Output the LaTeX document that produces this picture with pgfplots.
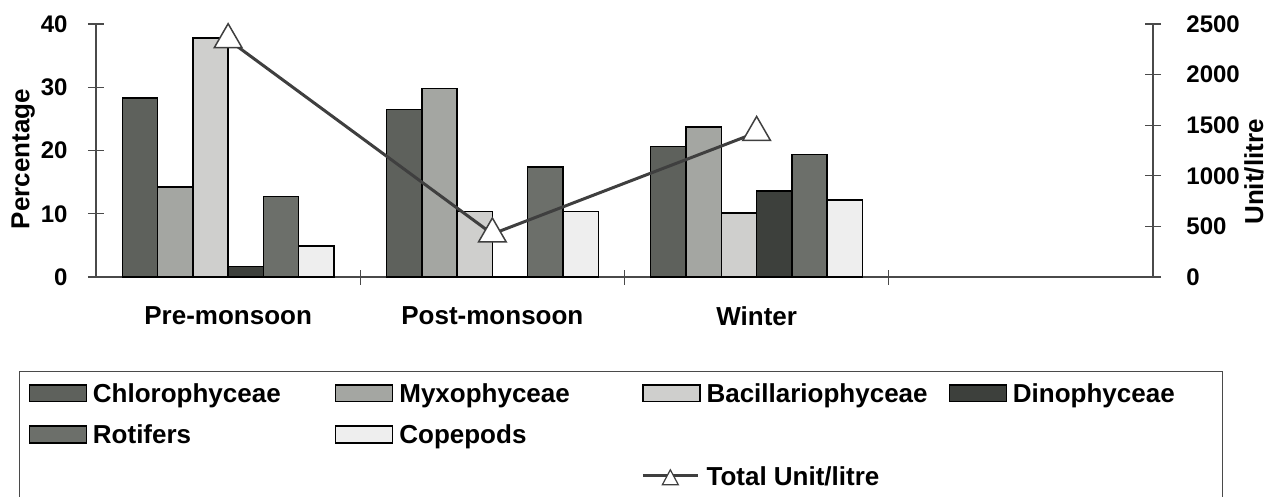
\documentclass[border=0pt]{standalone}
\usepackage{pgfplots}
\pgfplotsset{compat=1.18}
\usepackage{fontspec}
\setmainfont{Liberation Sans}
\definecolor{cChl}{HTML}{5E615C}
\definecolor{cMyx}{HTML}{A4A6A2}
\definecolor{cBac}{HTML}{CFCFCD}
\definecolor{cDin}{HTML}{3D403C}
\definecolor{cRot}{HTML}{6C6F6A}
\definecolor{cCop}{HTML}{EEEEEE}
\definecolor{axgray}{HTML}{4A4A4A}
\definecolor{linegray}{HTML}{3F3F3F}
\newcommand{\lbl}[2][121pt]{\makebox[#1][l]{\strut #2}}
\pgfplotsset{
  barleg/.style={legend image code/.code={\draw[##1] (0pt,-4.2pt) rectangle (28.5pt,4.2pt);}},
  blankleg/.style={legend image code/.code={}},
  totleg/.style={legend image code/.code={\draw[draw=linegray, line width=1.5pt] (0pt,0pt) -- (27.5pt,0pt); \draw[fill=white, draw=linegray, line width=0.6pt] (13.75pt,3pt) -- (9.75pt,-4.5pt) -- (17.75pt,-4.5pt) -- cycle;}},
}
\begin{document}
\begin{tikzpicture}
\begin{axis}[
  name=main,
  scale only axis, width=528.5pt, height=126.5pt,
  xmin=-0.5, xmax=3.5, ymin=0, ymax=40,
  axis x line*=bottom, axis y line*=left,
  axis line style={draw=axgray, line width=0.6pt},
  ybar=0pt, bar width=0.1335,
  xtick={0,1,2}, xticklabels={Pre-monsoon,Post-monsoon,Winter},
  major x tick style={draw=none},
  minor xtick={0.5,1.5,2.5},
  minor tick length=7.5pt,
  major tick length=8pt,
  tick align=center,
  tick style={draw=axgray, line width=0.6pt},
  ytick={0,10,20,30,40},
  /pgf/number format/assume math mode=true,
  yticklabel style={font=\bfseries\fontsize{12}{14}\selectfont, anchor=east, inner sep=0pt, xshift=-10pt},
  xticklabel style={font=\bfseries\fontsize{13}{15}\selectfont, anchor=north, inner sep=0pt, yshift=-10.5pt},
  every axis y label/.style={at={(axis description cs:-0.069,0.466)}, rotate=90, anchor=center, font=\bfseries\fontsize{13}{15}\selectfont},
  ylabel={Percentage},
  legend columns=4,
  legend cell align=left,
  legend style={at={(axis description cs:-0.0728,-0.3715)}, anchor=north west, draw=axgray, line width=0.5pt,
    inner xsep=4.5pt, inner ysep=4.7pt, font=\bfseries\fontsize{13}{15.6}\selectfont, row sep=8.2pt,
    /tikz/every odd column/.style={column sep=3pt}, /tikz/every even column/.style={column sep=0pt}, nodes={inner sep=0pt}},
  clip=false,
]
\addplot[barleg, fill=cChl, draw=black, line width=0.7pt] coordinates {(0,28.3) (1,26.5) (2,20.6)};
\addlegendentry{\lbl{Chlorophyceae}}
\addplot[barleg, fill=cMyx, draw=black, line width=0.7pt] coordinates {(0,14.2) (1,29.8) (2,23.7)};
\addlegendentry{\lbl{Myxophyceae}}
\addplot[barleg, fill=cBac, draw=black, line width=0.7pt] coordinates {(0,37.8) (1,10.4) (2,10.1)};
\addlegendentry{\lbl{Bacillariophyceae}}
\addplot[barleg, fill=cDin, draw=black, line width=0.7pt] coordinates {(0,1.7) (1,0) (2,13.6)};
\addlegendentry{\lbl[100.5pt]{Dinophyceae}}
\addplot[barleg, fill=cRot, draw=black, line width=0.7pt] coordinates {(0,12.7) (1,17.4) (2,19.4)};
\addlegendentry{\lbl{Rotifers}}
\addplot[barleg, fill=cCop, draw=black, line width=0.7pt] coordinates {(0,4.9) (1,10.4) (2,12.2)};
\addlegendentry{\lbl{Copepods}}
\addlegendimage{blankleg}\addlegendentry{}
\addlegendimage{blankleg}\addlegendentry{}
\addlegendimage{blankleg}\addlegendentry{}
\addlegendimage{blankleg}\addlegendentry{}
\addlegendimage{totleg}
\addlegendentry{\lbl{Total Unit/litre\rule[-6pt]{0pt}{1pt}}}
\end{axis}
\begin{axis}[
  scale only axis, width=528.5pt, height=126.5pt,
  xmin=-0.5, xmax=3.5, ymin=0, ymax=2500,
  axis x line=none, axis y line*=right,
  axis line style={draw=axgray, line width=0.6pt},
  ytick={0,500,1000,1500,2000,2500},
  scaled y ticks=false,
  tick align=center, major tick length=8pt,
  tick style={draw=axgray, line width=0.6pt},
  /pgf/number format/assume math mode=true,
  /pgf/number format/1000 sep={},
  yticklabel style={font=\bfseries\fontsize{12}{14}\selectfont, anchor=west, inner sep=0pt, xshift=12.5pt},
  every axis y label/.style={at={(axis description cs:1.0956,0.415)}, rotate=90, anchor=center, font=\bfseries\fontsize{13}{15}\selectfont},
  ylabel={Unit/litre},
  clip=false,
]
\addplot[draw=linegray, line width=1.5pt, mark=triangle*, mark size=8pt, mark options={fill=white, draw=linegray, line width=0.75pt}] coordinates {(0,2345) (1,425) (2,1428)};
\end{axis}
\pgfresetboundingbox
\path[use as bounding box] ([xshift=-48pt,yshift=-110pt]main.south west) rectangle ([xshift=58pt,yshift=12pt]main.north east);
\end{tikzpicture}
\end{document}
